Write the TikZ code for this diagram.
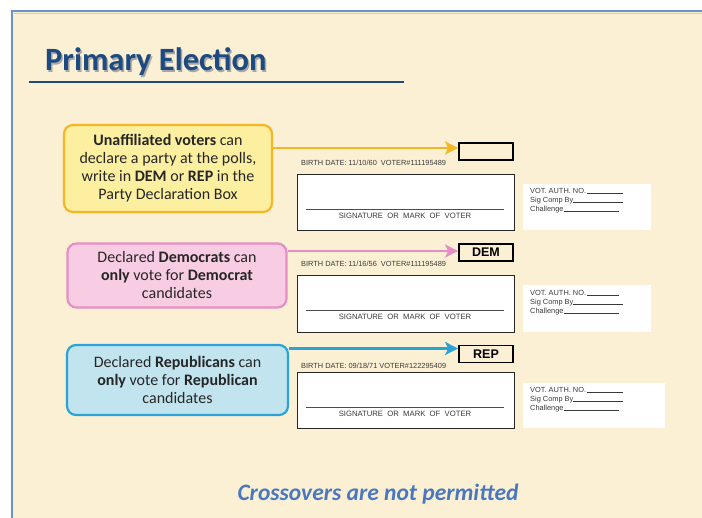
\documentclass[tikz,border=0pt]{standalone}
\usepackage{fontspec}
\setmainfont{Carlito}
\newfontfamily\arialf{Liberation Sans}
\usetikzlibrary{arrows.meta}
\definecolor{parch}{HTML}{FBF0D4}
\definecolor{frameblue}{HTML}{6A93CC}
\definecolor{titleblue}{HTML}{1D4A80}
\definecolor{ybord}{HTML}{F4B624}
\definecolor{yfill}{HTML}{FCEFA0}
\definecolor{pbord}{HTML}{E68EC6}
\definecolor{pfill}{HTML}{F8CDE3}
\definecolor{bbord}{HTML}{2AA3D8}
\definecolor{bfill}{HTML}{C2E4EE}
\definecolor{crossblue}{HTML}{4A78C0}
\definecolor{formgray}{HTML}{3A3A3A}
\begin{document}
\begin{tikzpicture}[x=1pt,y=-1pt,
  callout/.style={rounded corners=9pt, line width=2.2pt, align=center, text=black!85,
    font=\fontsize{16}{18}\selectfont, inner sep=0pt},
  partybox/.style={draw=black, line width=1.8pt, minimum width=54pt, minimum height=17pt,
    inner sep=0pt, font=\arialf\bfseries\fontsize{12.5}{12.5}\selectfont},
  sigbox/.style={draw=black!85, fill=white, line width=0.8pt, minimum width=217pt,
    minimum height=56pt, inner sep=0pt},
  sidebox/.style={fill=white, inner sep=0pt},
  formtxt/.style={font=\arialf\fontsize{7.4}{9}\selectfont, text=formgray, inner sep=0pt},
  sigtxt/.style={font=\arialf\fontsize{7.7}{9}\selectfont, text=formgray, inner sep=0pt},
  arr/.style={line width=2.8pt, -{Stealth[length=13pt,width=13pt,inset=3pt]}},
]
\useasboundingbox (0,0) rectangle (702,518);
% background
\fill[white] (0,0) rectangle (702,518);
\fill[parch] (12,11) rectangle (702,518);
\draw[frameblue, line width=2pt] (12,518) -- (12,11) -- (702,11);
\draw[frameblue!45, line width=1pt] (14,13.5) -- (702,13.5);

% title
\node[anchor=base west, font=\bfseries\fontsize{32.5}{32.5}\selectfont, text=black!35, inner sep=0pt] (titleshadow) at (46.5,72.5) {Primary Election};
\node[anchor=base west, font=\bfseries\fontsize{32.5}{32.5}\selectfont, text=titleblue, inner sep=0pt] (title) at (45,71) {Primary Election};
\draw[titleblue, line width=1.3pt] (29,82) -- (404,82);

% callouts
\node[callout, draw=ybord, fill=yfill, minimum width=208pt, minimum height=87pt] (ybox) at (168,168.5)
  {\textbf{Unaffiliated voters} can\\declare a party at the polls,\\write in \textbf{DEM} or \textbf{REP} in the\\Party Declaration Box};
\node[callout, draw=pbord, fill=pfill, minimum width=219pt, minimum height=64pt] (pbox) at (177,275.5)
  {Declared \textbf{Democrats} can\\\textbf{only} vote for \textbf{Democrat}\\candidates};
\node[callout, draw=bbord, fill=bfill, minimum width=221pt, minimum height=70pt] (bbox) at (177.5,380)
  {Declared \textbf{Republicans} can\\\textbf{only} vote for \textbf{Republican}\\candidates};

% form 1
\node[partybox] (party1) at (486,151.5) {};
\node[formtxt, anchor=west] (birth1) at (301,163) {BIRTH DATE: 11/10/60\ \ VOTER\#111195489};
\node[sigbox] (sig1) at (405.5,202) {};
\draw[black!70, line width=0.6pt] (306,209) -- (504,209);
\node[sigtxt] (sigt1) at (405,216) {SIGNATURE\ \ OR\ \ MARK\ \ OF\ \ VOTER};
\node[sidebox, minimum width=128pt, minimum height=46pt] (side1) at (586.5,207) {};
\node[formtxt, anchor=north west, align=left] (sidet1) at (530,188)
  {VOT. AUTH. NO.\,\rule{36pt}{0.4pt}\\Sig Comp By\rule{50pt}{0.4pt}\\Challenge\rule{55pt}{0.4pt}};

% form 2
\node[partybox] (party2) at (486,252.5) {DEM};
\node[formtxt, anchor=west] (birth2) at (301,264) {BIRTH DATE: 11/16/56\ \ VOTER\#111195489};
\node[sigbox, minimum height=57pt] (sig2) at (405.5,303.5) {};
\draw[black!70, line width=0.6pt] (306,310) -- (504,310);
\node[sigtxt] (sigt2) at (405,316.5) {SIGNATURE\ \ OR\ \ MARK\ \ OF\ \ VOTER};
\node[sidebox, minimum width=128pt, minimum height=47pt] (side2) at (586.5,308.5) {};
\node[formtxt, anchor=north west, align=left] (sidet2) at (530,290.5)
  {VOT. AUTH. NO.\,\rule{32pt}{0.9pt}\\Sig Comp By\rule{50pt}{0.4pt}\\Challenge\rule{55pt}{0.4pt}};

% form 3
\node[partybox] (party3) at (486,354) {REP};
\node[formtxt, anchor=west] (birth3) at (301,366) {BIRTH DATE: 09/18/71 VOTER\#122295409};
\node[sigbox] (sig3) at (405.5,400) {};
\draw[black!70, line width=0.6pt] (306,407) -- (504,407);
\node[sigtxt] (sigt3) at (405,413.5) {SIGNATURE\ \ OR\ \ MARK\ \ OF\ \ VOTER};
\node[sidebox, minimum width=142pt, minimum height=45pt] (side3) at (594,405.5) {};
\node[formtxt, anchor=north west, align=left] (sidet3) at (530,387)
  {VOT. AUTH. NO.\,\rule{36pt}{0.4pt}\\Sig Comp By\rule{50pt}{0.4pt}\\Challenge\rule{55pt}{0.4pt}};

% arrows
\coordinate (tip1) at (party1.west |- 0,148);
\coordinate (tip2) at (party2.west |- 0,251);
\coordinate (tip3) at (party3.west |- 0,348.5);
\draw[arr, ybord] (ybox.east |- tip1) -- (tip1);
\draw[arr, pbord] (pbox.east |- tip2) -- (tip2);
\draw[arr, bbord] (bbox.east |- tip3) -- (tip3);

% footer
\node[font=\bfseries\itshape\fontsize{23.5}{23.5}\selectfont, text=crossblue, inner sep=0pt] (cross) at (378,494) {Crossovers are not permitted};
\end{tikzpicture}
\end{document}
